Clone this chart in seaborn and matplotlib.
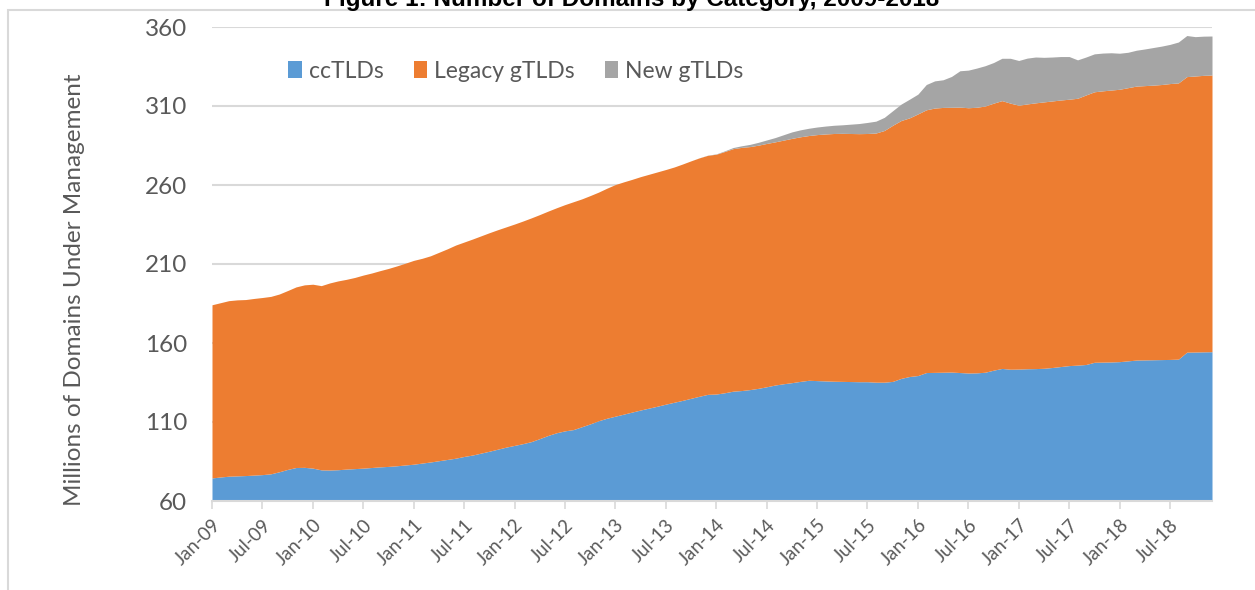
import matplotlib
matplotlib.use("Agg")
import matplotlib.pyplot as plt
from matplotlib.patches import Patch, Rectangle
import numpy as np
import pandas as pd
import seaborn as sns

# ── Dados (milhões de domínios, mensal jan/2009 – dez/2018) ────────────────────
MONTHS = pd.date_range("2009-01-01", periods=120, freq="MS")

CCTLDS = [
    74.6, 75.2, 75.7, 75.9, 76.1, 76.4, 76.7, 77.2, 78.5, 80.0, 81.2, 81.3,
    80.8, 79.7, 79.6, 79.8, 80.2, 80.5, 80.8, 81.2, 81.6, 81.9, 82.3, 82.8,
    83.3, 84.0, 84.7, 85.5, 86.3, 87.1, 88.2, 89.1, 90.3, 91.5, 92.8, 94.1,
    95.2, 96.3, 97.6, 99.5, 101.5, 103.2, 104.4, 105.2, 107.0, 108.8, 110.8, 112.4,
    113.7, 115.0, 116.3, 117.6, 118.8, 120.0, 121.3, 122.5, 123.7, 125.0, 126.3, 127.5,
    127.7, 128.5, 129.5, 129.9, 130.5, 131.3, 132.3, 133.4, 134.2, 134.9, 135.7, 136.4,
    136.2, 136.0, 135.8, 135.7, 135.6, 135.5, 135.5, 135.2, 135.2, 135.7, 137.6, 138.8,
    139.4, 141.3, 141.4, 141.5, 141.6, 141.3, 141.0, 141.1, 141.5, 142.8, 143.9, 143.4,
    143.5, 143.7, 143.8, 144.0, 144.5, 145.1, 145.7, 146.0, 146.4, 147.8, 147.9, 148.0,
    148.2, 148.7, 149.2, 149.3, 149.4, 149.5, 149.6, 149.8, 154.2, 154.3, 154.4, 154.5,
]

LEGACY_GTLDS = [
    109.6, 110.3, 111.1, 111.4, 111.4, 111.8, 112.1, 112.3, 112.5, 113.2, 114.3, 115.5,
    116.4, 116.6, 118.4, 119.5, 120.1, 121.0, 122.2, 123.1, 124.2, 125.3, 126.5, 127.7,
    129.0, 129.6, 130.5, 131.9, 133.3, 134.9, 135.7, 136.7, 137.5, 138.3, 138.9, 139.4,
    140.1, 140.9, 141.6, 141.8, 142.0, 142.4, 143.2, 144.2, 144.2, 144.5, 144.7, 145.6,
    146.6, 147.0, 147.3, 147.7, 148.0, 148.3, 148.5, 148.9, 149.6, 150.3, 150.9, 151.3,
    151.8, 152.7, 153.5, 153.9, 153.8, 153.9, 154.0, 153.9, 154.2, 154.6, 154.8, 154.9,
    155.7, 156.3, 156.8, 157.0, 157.0, 157.0, 157.1, 157.7, 159.3, 162.1, 163.2, 163.7,
    165.6, 166.3, 167.3, 167.6, 167.6, 168.0, 167.9, 168.1, 168.5, 169.0, 169.5, 168.4,
    167.0, 167.6, 168.2, 168.6, 168.7, 168.7, 168.6, 168.9, 170.6, 171.2, 171.7, 172.1,
    172.4, 172.9, 173.4, 173.6, 173.8, 174.1, 174.6, 174.8, 174.4, 174.7, 175.0, 175.1,
]

NEW_GTLDS = [
    0, 0, 0, 0, 0, 0, 0, 0, 0, 0, 0, 0,
    0, 0, 0, 0, 0, 0, 0, 0, 0, 0, 0, 0,
    0, 0, 0, 0, 0, 0, 0, 0, 0, 0, 0, 0,
    0, 0, 0, 0, 0, 0, 0, 0, 0, 0, 0, 0,
    0, 0, 0, 0, 0, 0, 0, 0, 0, 0, 0.05, 0.1,
    0.2, 0.4, 0.7, 1.0, 1.4, 1.8, 2.2, 2.7, 3.4, 4.1, 4.4, 4.6,
    4.8, 5.0, 5.2, 5.4, 5.9, 6.4, 7.0, 7.5, 8.3, 9.2, 10.4, 11.8,
    12.5, 16.0, 17.2, 17.5, 19.5, 23.0, 23.8, 24.8, 25.5, 25.7, 26.8, 28.4,
    28.3, 29.0, 29.0, 28.2, 27.8, 27.5, 27.0, 24.3, 24.0, 24.0, 23.9, 23.6,
    22.8, 22.4, 22.7, 23.2, 23.8, 24.3, 24.8, 25.9, 26.0, 24.9, 24.8, 24.7,
]

SERIES_NAMES = ["ccTLDs", "Legacy gTLDs", "New gTLDs"]
COLORS = ["#5B9BD5", "#ED7D31", "#A5A5A5"]
Y_TICKS = [60, 110, 160, 210, 260, 310, 360]
TICK_STEP = 6  # um rótulo a cada 6 meses

TITLE = "Figure 1: Number of Domains by Category, 2009-2018"
Y_LABEL = "Millions of Domains Under Management"

TEXT_GRAY = "#595959"
GRID_GRAY = "#D9D9D9"

# ── Estilo ─────────────────────────────────────────────────────────────────────
sns.set_theme(style="white")
plt.rcParams["font.family"] = ["Lato", "DejaVu Sans"]

df = pd.DataFrame({
    "month": MONTHS,
    SERIES_NAMES[0]: CCTLDS,
    SERIES_NAMES[1]: LEGACY_GTLDS,
    SERIES_NAMES[2]: NEW_GTLDS,
})
x = np.arange(len(df))

fig = plt.figure(figsize=(12.55, 5.90), dpi=100)
ax = fig.add_axes([212 / 1255, 1 - 501 / 590, 1000 / 1255, 474 / 590])

ax.stackplot(x, df[SERIES_NAMES[0]], df[SERIES_NAMES[1]], df[SERIES_NAMES[2]],
             colors=COLORS, linewidth=0, baseline="zero", zorder=2)

ax.set_xlim(0, len(df) - 1)
ax.set_ylim(Y_TICKS[0], Y_TICKS[-1])
ax.set_yticks(Y_TICKS)
ax.set_yticklabels([str(t) for t in Y_TICKS], fontsize=17.5, color=TEXT_GRAY)
ax.yaxis.grid(True, color=GRID_GRAY, linewidth=1.5, zorder=0)
ax.set_axisbelow(True)

tick_pos = x[::TICK_STEP]
ax.set_xticks(tick_pos)
ax.set_xticklabels(df["month"].dt.strftime("%b-%y").iloc[::TICK_STEP],
                   rotation=45, ha="right", rotation_mode="anchor",
                   fontsize=13.5, color=TEXT_GRAY)
ax.tick_params(axis="x", bottom=True, length=6, width=1.2, color=GRID_GRAY, pad=5)
ax.tick_params(axis="y", left=False, pad=12)

sns.despine(ax=ax, left=True, top=True, right=True)
ax.spines["bottom"].set_color(GRID_GRAY)
ax.spines["bottom"].set_linewidth(1.5)
ax.spines["bottom"].set_zorder(3)

ax.set_ylabel(Y_LABEL, fontsize=17.5, color=TEXT_GRAY)
ax.yaxis.set_label_coords(-0.127, 0.445)

handles = [Patch(facecolor=c, edgecolor="none", label=n) for n, c in zip(SERIES_NAMES, COLORS)]
leg = ax.legend(handles=handles, loc="center left", bbox_to_anchor=(0.065, 0.907),
                ncol=3, frameon=False, fontsize=16.5, borderpad=0,
                handlelength=0.6, handleheight=0.75, handletextpad=0.3,
                columnspacing=1.3)
for t in leg.get_texts():
    t.set_color(TEXT_GRAY)

# moldura do gráfico (cortada à direita e embaixo, como na imagem)
fig.patches.append(Rectangle((8 / 1255, -0.05), 1.2, 1 - 10 / 590 + 0.05,
                             transform=fig.transFigure, fill=False,
                             edgecolor=GRID_GRAY, linewidth=1.5))

# título parcialmente cortado no topo
fig.text(632 / 1255, 1 - 6 / 590, TITLE, ha="center", va="baseline",
         fontsize=17.5, fontweight="bold", color="black",
         family=["Liberation Sans", "DejaVu Sans"])

fig.savefig("out.png", dpi=100)
plt.close(fig)
